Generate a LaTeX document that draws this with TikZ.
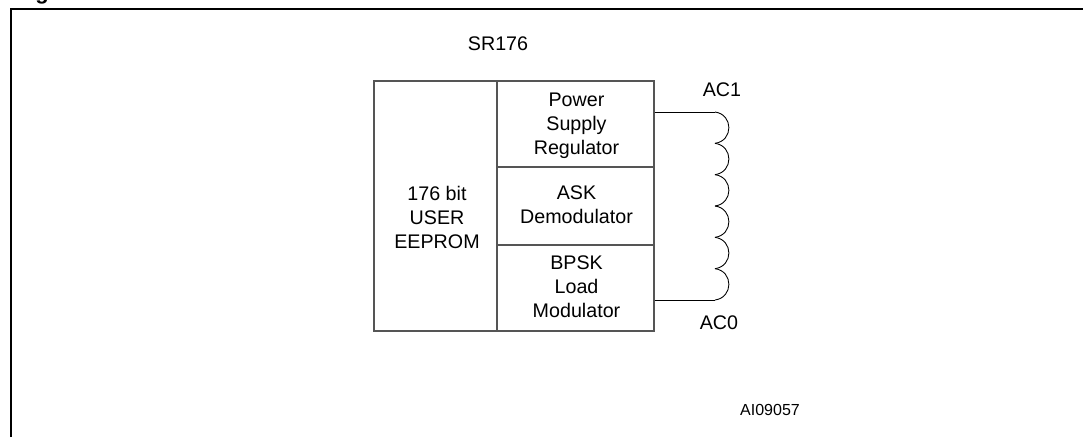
\documentclass[tikz,border=0pt]{standalone}
\usepackage{xcolor}
\usepackage{tikz}
\usepackage{fontspec}
\setmainfont{Liberation Sans}
\usetikzlibrary{positioning, calc}
\definecolor{boxline}{HTML}{555555}

\begin{document}
\begin{tikzpicture}[
    block/.style={rectangle, draw=boxline, line width=0.8pt, inner sep=0pt, minimum width=3.14cm},
    caption/.style={align=center, font=\fontsize{11.2}{13.6}\selectfont},
    wire/.style={line width=0.5pt, color=black}
]
\useasboundingbox (0,0) rectangle (21.66,8.74);

% Figure frame
\node[anchor=base, inner sep=0pt, font=\fontsize{12.5}{15}\selectfont\bfseries] (figmark) at (0.84,8.74) {g};
\draw[line width=1.7pt] (0.22,0) -- (0.22,8.56) -- (21.66,8.56);

% Memory and the three analog blocks
\node[block, minimum width=2.46cm, minimum height=5cm] (eeprom) at (8.71,4.62) {};
\node[block, minimum height=1.72cm] (regulator) at (11.51,6.26) {};
\node[block, minimum height=1.56cm] (demod) at (11.51,4.62) {};
\node[block, minimum height=1.72cm] (loadmod) at (11.51,2.98) {};

% Block texts
\node[caption] (eepromtext) at (8.74,4.39) {176 bit\\USER\\EEPROM};
\node[caption] (regtext) at (11.53,6.23) {Power\\Supply\\Regulator};
\node[caption] (demodtext) at (11.53,4.65) {ASK\\Demodulator};
\node[caption] (loadtext) at (11.53,3.00) {BPSK\\Load\\Modulator};

% Antenna coil
\coordinate (ac1) at (14.30,6.50);
\coordinate (ac0) at (14.30,2.74);
\draw[wire] (regulator.east |- ac1) -- (ac1);
\draw[wire] (loadmod.east |- ac0) -- (ac0);
\foreach \i in {0,...,5} {
    \draw[wire] ($(ac1)+(0,-0.6267*\i)$) .. controls +(0.37,-0.05) and +(0.37,0.05) .. +(0,-0.6267);
}

% Labels
\node[caption] (sr176) at (9.96,7.86) {SR176};
\node[caption] (ac1text) at (14.44,6.94) {AC1};
\node[caption] (ac0text) at (14.38,2.28) {AC0};
\node[font=\fontsize{9.1}{11}\selectfont] (ainum) at (15.40,0.54) {AI09057};

\end{tikzpicture}
\end{document}
